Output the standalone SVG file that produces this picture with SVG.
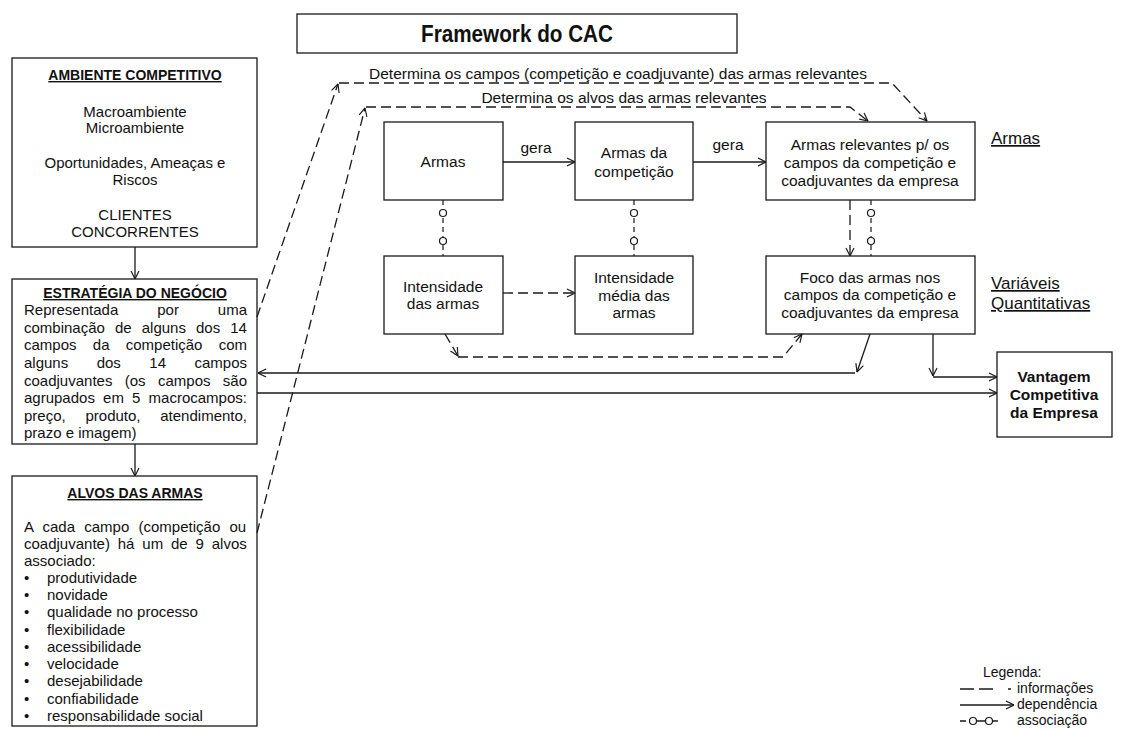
<svg xmlns="http://www.w3.org/2000/svg" width="1121" height="730" viewBox="0 0 1121 730">
<style>
text{font-family:"Liberation Sans",Arial,sans-serif;fill:#111;}
.t{font-size:15px;}
.m{font-size:15.5px;}
.c{text-anchor:middle;}
.b{font-weight:bold;}
.u{text-decoration:underline;}
.box{fill:#fff;stroke:#1a1a1a;stroke-width:1.3;}
.ln{fill:none;stroke:#1a1a1a;stroke-width:1.3;}
.dash{stroke-dasharray:10,5;}
.as{fill:none;stroke:#1a1a1a;stroke-width:1.2;stroke-dasharray:5,4;}
.circ{fill:#fff;stroke:#1a1a1a;stroke-width:1.2;}
.lab{font-size:17px;}
.lg{font-size:14px;}
</style>
<defs>
<marker id="arr" viewBox="0 0 10 10" refX="9.5" refY="5" markerWidth="9" markerHeight="10" markerUnits="userSpaceOnUse" orient="auto">
<path d="M0.5,0.6 L9.5,5 L0.5,9.4" fill="none" stroke="#1a1a1a" stroke-width="1.3" stroke-dasharray="none"/>
</marker>
</defs>
<rect width="1121" height="730" fill="#fff"/>

<g id="title">
<rect class="box" x="297" y="14" width="440" height="39"/>
<text x="517" y="42" class="c b" font-size="24" textLength="192" lengthAdjust="spacingAndGlyphs">Framework do CAC</text>
</g>

<g id="ambiente">
<rect class="box" x="12" y="58" width="245" height="189"/>
<text x="135" y="80" class="c b u" font-size="14">AMBIENTE COMPETITIVO</text>
<text class="t c" x="135" y="117">Macroambiente</text>
<text class="t c" x="135" y="133">Microambiente</text>
<text class="t c" x="135" y="168">Oportunidades, Ameaças e</text>
<text class="t c" x="135" y="185">Riscos</text>
<text class="t c" x="135" y="220">CLIENTES</text>
<text class="t c" x="135" y="237">CONCORRENTES</text>
</g>

<g id="estrategia">
<rect class="box" x="12" y="279" width="245" height="165"/>
<text x="135" y="298" class="c b u" font-size="14">ESTRATÉGIA DO NEGÓCIO</text>
<text class="t" x="24" y="315" word-spacing="34.8">Representada por uma</text>
<text class="t" x="24" y="333" word-spacing="5.9">combinação de alguns dos 14</text>
<text class="t" x="24" y="350" word-spacing="12.1">campos da competição com</text>
<text class="t" x="24" y="368" word-spacing="24.3">alguns dos 14 campos</text>
<text class="t" x="24" y="386" word-spacing="8.2">coadjuvantes (os campos são</text>
<text class="t" x="24" y="403" word-spacing="4.0">agrupados em 5 macrocampos:</text>
<text class="t" x="24" y="421" word-spacing="15.6">preço, produto, atendimento,</text>
<text class="t" x="24" y="438">prazo e imagem)</text>
</g>

<g id="alvos">
<rect class="box" x="12" y="476" width="245" height="250"/>
<text x="135" y="498" class="c b u" font-size="14">ALVOS DAS ARMAS</text>
<text class="t" x="24" y="532" word-spacing="5.1">A cada campo (competição ou</text>
<text class="t" x="24" y="549" word-spacing="3.7">coadjuvante) há um de 9 alvos</text>
<text class="t" x="24" y="566">associado:</text>
<text class="t" x="24" y="583">•</text><text class="t" x="47" y="583">produtividade</text>
<text class="t" x="24" y="600">•</text><text class="t" x="47" y="600">novidade</text>
<text class="t" x="24" y="617">•</text><text class="t" x="47" y="617">qualidade no processo</text>
<text class="t" x="24" y="635">•</text><text class="t" x="47" y="635">flexibilidade</text>
<text class="t" x="24" y="652">•</text><text class="t" x="47" y="652">acessibilidade</text>
<text class="t" x="24" y="669">•</text><text class="t" x="47" y="669">velocidade</text>
<text class="t" x="24" y="686">•</text><text class="t" x="47" y="686">desejabilidade</text>
<text class="t" x="24" y="704">•</text><text class="t" x="47" y="704">confiabilidade</text>
<text class="t" x="24" y="721">•</text><text class="t" x="47" y="721">responsabilidade social</text>
</g>

<g id="armas">
<rect class="box" x="384" y="122" width="119" height="78"/>
<text class="m c" x="443" y="167">Armas</text>
</g>
<g id="armas-competicao">
<rect class="box" x="575" y="122" width="118" height="78"/>
<text class="m c" x="634" y="158">Armas da</text>
<text class="m c" x="634" y="177">competição</text>
</g>
<g id="armas-relevantes">
<rect class="box" x="766" y="122" width="209" height="78"/>
<text class="m c" x="870" y="150">Armas relevantes p/ os</text>
<text class="m c" x="870" y="168">campos da competição e</text>
<text class="m c" x="870" y="186">coadjuvantes da empresa</text>
</g>
<g id="intensidade">
<rect class="box" x="384" y="256" width="119" height="78"/>
<text class="m c" x="443" y="292">Intensidade</text>
<text class="m c" x="443" y="309">das armas</text>
</g>
<g id="intensidade-media">
<rect class="box" x="575" y="256" width="118" height="78"/>
<text class="m c" x="634" y="283">Intensidade</text>
<text class="m c" x="634" y="301">média das</text>
<text class="m c" x="634" y="318">armas</text>
</g>
<g id="foco">
<rect class="box" x="766" y="256" width="209" height="78"/>
<text class="m c" x="870" y="283">Foco das armas nos</text>
<text class="m c" x="870" y="300">campos da competição e</text>
<text class="m c" x="870" y="318">coadjuvantes da empresa</text>
</g>
<g id="vantagem">
<rect class="box" x="997" y="352" width="115" height="85"/>
<text class="m c b" x="1054" y="382">Vantagem</text>
<text class="m c b" x="1054" y="400">Competitiva</text>
<text class="m c b" x="1054" y="418">da Empresa</text>
</g>

<g id="labels">
<text class="lab u" x="991" y="144">Armas</text>
<text class="lab u" x="991" y="289">Variáveis</text>
<text class="lab u" x="991" y="309">Quantitativas</text>
</g>

<g id="connectors">
<line class="ln" x1="135" y1="247" x2="135" y2="279" marker-end="url(#arr)"/>
<line class="ln" x1="135" y1="444" x2="135" y2="476" marker-end="url(#arr)"/>
<line class="ln" x1="503" y1="162" x2="575" y2="162" marker-end="url(#arr)"/>
<text class="m c" x="536" y="153">gera</text>
<line class="ln" x1="693" y1="162" x2="766" y2="162" marker-end="url(#arr)"/>
<text class="m c" x="728" y="150">gera</text>

<line class="as" x1="443" y1="200" x2="443" y2="256"/>
<circle class="circ" cx="443" cy="213" r="3.5"/>
<circle class="circ" cx="443" cy="241" r="3.5"/>
<line class="as" x1="634" y1="200" x2="634" y2="256"/>
<circle class="circ" cx="634" cy="213" r="3.5"/>
<circle class="circ" cx="634" cy="241" r="3.5"/>
<line class="as" x1="871" y1="200" x2="871" y2="256"/>
<circle class="circ" cx="871" cy="213" r="3.5"/>
<circle class="circ" cx="871" cy="241" r="3.5"/>

<line class="ln dash" x1="850" y1="200" x2="850" y2="256" marker-end="url(#arr)"/>
<line class="ln dash" x1="503" y1="293" x2="575" y2="293" marker-end="url(#arr)"/>
<path class="ln dash" d="M445,334 L458,356" marker-end="url(#arr)"/>
<path class="ln dash" d="M458,357 L783,357 L802,334" marker-end="url(#arr)"/>

<path class="ln" d="M870,334 L857,372" marker-end="url(#arr)"/>
<path class="ln" d="M855,373 L258,373" marker-end="url(#arr)"/>
<path class="ln" d="M933,334 L933,376" marker-end="url(#arr)"/>
<path class="ln" d="M933,377 L997,377" marker-end="url(#arr)"/>
<path class="ln" d="M257,393 L997,393" marker-end="url(#arr)"/>

<path class="ln dash" d="M257,317 L338,84" marker-end="url(#arr)"/>
<path class="ln dash" d="M339,83 L892,83 L927,121" marker-end="url(#arr)"/>
<path class="ln dash" d="M257,533 L365,108" marker-end="url(#arr)"/>
<path class="ln dash" d="M366,107 L850,107 L868,121" marker-end="url(#arr)"/>
<text class="m c" x="618" y="79">Determina os campos (competição e coadjuvante) das armas relevantes</text>
<text class="m c" x="624" y="103">Determina os alvos das armas relevantes</text>
</g>

<g id="legenda">
<text class="lg" x="983" y="677">Legenda:</text>
<path class="ln" d="M960,689 L974,689 M979,689 L993,689 M1008,689 L1011,689"/>
<text class="lg" x="1017" y="693">informações</text>
<line class="ln" x1="960" y1="705" x2="1014" y2="705" marker-end="url(#arr)"/>
<text class="lg" x="1017" y="709">dependência</text>
<path class="ln" d="M960,721 L966,721 M977,721 L985,721 M993,721 L998,721"/>
<circle class="circ" cx="973" cy="721" r="3.5"/>
<circle class="circ" cx="989" cy="721" r="3.5"/>
<text class="lg" x="1017" y="725">associação</text>
</g>
</svg>
